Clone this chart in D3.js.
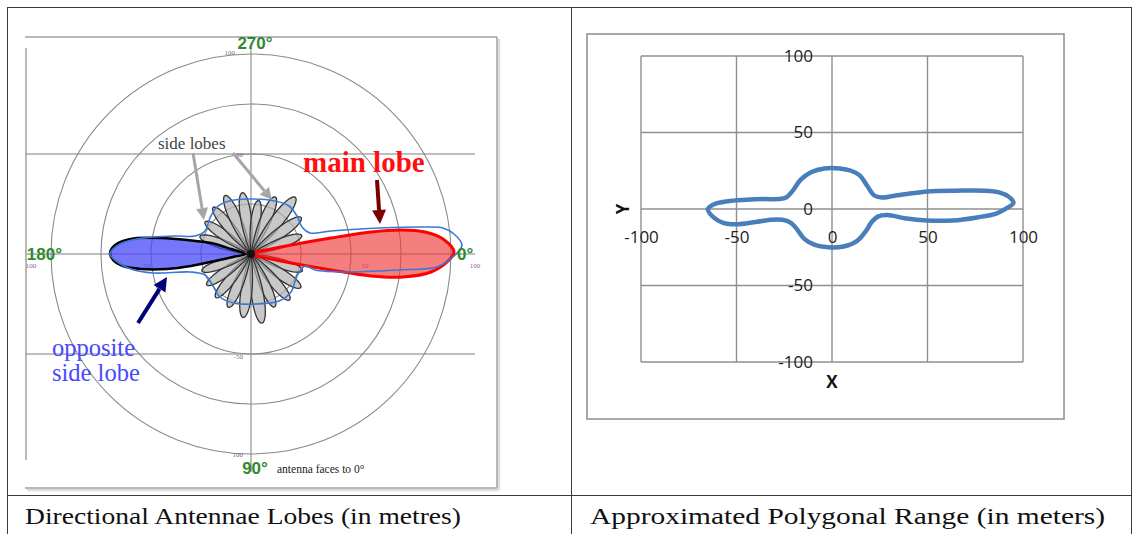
<!DOCTYPE html>
<html>
<head>
<meta charset="utf-8">
<script src="https://cdn.jsdelivr.net/npm/d3@7"></script>
<style>
  html, body { margin: 0; padding: 0; background: #fff; }
  svg { display: block; }
</style>
</head>
<body>
<svg id="fig" width="1132" height="534"></svg>
<script>
// ---------------- data ----------------
// Polar pattern (metres). Rings and compass directions.
const ringValues = [25, 50, 75, 100];
const gridValues = [-50, 0, 50];
const compassAngles = [0, 90, 180, 270];
const compassLabels = ["0°", "90°", "180°", "270°"];

// Main lobe outline, [x, y] in metres (y up), antenna facing 0°
const mainLobe = [
  [0, 0], [10, 2.5], [20, 4.5], [40, 8], [60, 11], [75, 12], [87, 11], [96, 7.5],
  [101.5, 1], [98, -4], [90, -9], [76, -11.5], [60, -11], [40, -8], [20, -4.5], [10, -2.5]
];

// Opposite (back) lobe outline, [x, y] in metres
const oppositeLobe = [
  [-3, 0], [-10, 2.5], [-20, 5.5], [-32, 7], [-45, 8], [-57, 8], [-64, 6.5], [-68.5, 4],
  [-70.5, 0.5], [-69, -3], [-64, -6], [-55, -7.5], [-42, -7.5], [-30, -6], [-18, -3.5], [-9, -1.5]
];

// Side lobes: direction (degrees, clockwise from 0°) and length (metres)
const sideLobeAngles  = [18, 34, 50, 66, 81, 97, 113, 129, 145, 161,
                         199, 215, 231, 246, 262, 278, 293, 308, 324, 340];
const sideLobeLengths = [27, 30, 30, 29, 35, 32, 29, 28, 27, 26,
                         27, 28, 30, 32, 31, 27, 31, 36, 31, 27];

// Coverage envelope drawn around all lobes, [x, y] in metres (y up)
const coverageEnvelope = [
  [-70.5, 0], [-65.5, 5], [-57, 7.5], [-49, 8.5], [-38, 9], [-28, 9], [-23, 11.5],
  [-20.5, 18], [-17, 23.5], [-11, 26.5], [0, 27.5], [12, 26.5], [19, 24], [23, 19],
  [25.5, 13.5], [29.5, 10.5], [40, 11.5], [64.5, 13], [88, 13.5], [96, 13], [101.5, 10],
  [105.5, 4.5], [103, 0.5], [99, -3], [93, -6.5], [73, -8], [48, -9], [32, -8],
  [27, -6], [23, -11], [20, -19], [14, -23.5], [3, -25], [-9, -24.5], [-16, -21],
  [-19.5, -15], [-23, -10.5], [-30.5, -9], [-49, -9.5], [-60, -7.5], [-66, -4.5]
];

// Approximated polygonal range (metres)
const rangeX = [-65, -62, -55, -45, -35, -28, -24, -20.5, -16.5, -11, -4, 4, 10, 14.5, 18.5,
                22, 26, 32, 40, 50, 65, 80, 87, 92, 95, 91.5, 86, 76, 63, 50, 38, 29,
                24, 20.5, 18, 13, 6, -2, -9, -14.5, -18.5, -21.5, -26, -32, -40, -50, -57, -62];
const rangeY = [0, 3, 5, 6, 6.5, 6.5, 7.5, 12, 19, 24, 26.5, 26.5, 25, 22, 15,
                9, 7.5, 8.5, 10, 11.5, 12, 12, 11, 8.5, 4, 0.5, -3, -5.5, -7.5, -7.5, -6, -4,
                -5, -9, -14, -21, -24.5, -25, -23.5, -19.5, -13, -9, -7, -7, -8.5, -10, -9, -5.5];
const rangeTicks = [-100, -50, 0, 50, 100];

const captions = ["Directional Antennae Lobes (in metres)", "Approximated Polygonal Range (in meters)"];

// ---------------- drawing ----------------
const svg = d3.select("#fig");
const deg = Math.PI / 180;

// table rules
const rules = svg.append("g").attr("stroke", "#3a3a3a").attr("stroke-width", 1);
rules.append("line").attr("x1", 7).attr("x2", 1132).attr("y1", 7.5).attr("y2", 7.5);
rules.append("line").attr("x1", 7.5).attr("x2", 7.5).attr("y1", 7).attr("y2", 534);
rules.append("line").attr("x1", 571.5).attr("x2", 571.5).attr("y1", 7).attr("y2", 534);
rules.append("line").attr("x1", 1131.5).attr("x2", 1131.5).attr("y1", 7).attr("y2", 534);
rules.append("line").attr("x1", 7).attr("x2", 1132).attr("y1", 495.5).attr("y2", 495.5);

// captions
svg.selectAll("text.caption").data(captions).join("text")
  .attr("class", "caption")
  .attr("x", (d, i) => i === 0 ? 25 : 590)
  .attr("y", 524)
  .attr("font-family", "Liberation Serif, serif")
  .attr("font-size", 24)
  .attr("textLength", (d, i) => i === 0 ? 436 : 515)
  .attr("lengthAdjust", "spacingAndGlyphs")
  .attr("fill", "#111")
  .text(d => d);

// ================= left panel: polar lobe pattern =================
const cx = 251, cy = 254;
const xL = d3.scaleLinear().domain([-100, 100]).range([cx - 200, cx + 200]);
const yL = d3.scaleLinear().domain([-100, 100]).range([cy + 200, cy - 200]);
const rL = d3.scaleLinear().domain([0, 100]).range([0, 200]);

const left = svg.append("g");

// picture frame
const frame = left.append("g").attr("stroke-width", 1.5).attr("fill", "none");
frame.append("line").attr("x1", 499).attr("x2", 499).attr("y1", 39).attr("y2", 490).attr("stroke", "#dcdcdc").attr("stroke-width", 2.5);
frame.append("line").attr("x1", 27).attr("x2", 499).attr("y1", 490).attr("y2", 490).attr("stroke", "#dcdcdc").attr("stroke-width", 2.5);
frame.append("line").attr("x1", 25).attr("x2", 497).attr("y1", 37).attr("y2", 37).attr("stroke", "#a0a0a0");
frame.append("line").attr("x1", 497).attr("x2", 497).attr("y1", 37).attr("y2", 488).attr("stroke", "#a0a0a0");
frame.append("line").attr("x1", 25).attr("x2", 497).attr("y1", 488).attr("y2", 488).attr("stroke", "#a0a0a0");
frame.append("line").attr("x1", 26).attr("x2", 26).attr("y1", 48).attr("y2", 460).attr("stroke", "#a0a0a0");

// grid lines
left.selectAll("line.hgrid").data(gridValues).join("line")
  .attr("class", "hgrid")
  .attr("x1", 25).attr("x2", xL(112))
  .attr("y1", d => yL(d)).attr("y2", d => yL(d))
  .attr("stroke", "#a8a8a8").attr("stroke-width", 1.5);
left.append("line")
  .attr("x1", xL(0)).attr("x2", xL(0))
  .attr("y1", yL(103)).attr("y2", yL(-109))
  .attr("stroke", "#a8a8a8").attr("stroke-width", 1.5);

// range rings
left.selectAll("circle.ring").data(ringValues).join("circle")
  .attr("class", "ring")
  .attr("cx", cx).attr("cy", cy)
  .attr("r", d => rL(d))
  .attr("fill", "none")
  .attr("stroke", "#8a8a8a")
  .attr("stroke-width", 1.1);

// tiny ring value labels along the axes
const tinyLabels = [
  { t: "100", a: 270, v: 101, dx: -16 }, { t: "50", a: 270, v: 50, dx: -8 },
  { t: "100", a: 180, v: 110, dx: 0 },   { t: "50", a: 180, v: 52, dx: 0 },
  { t: "50", a: 0, v: 57, dx: 0 },       { t: "100", a: 0, v: 112, dx: 0 },
  { t: "-50", a: 90, v: 51, dx: -8 },    { t: "100", a: 90, v: 100, dx: -8 }
];
left.selectAll("text.tiny").data(tinyLabels).join("text")
  .attr("class", "tiny")
  .attr("x", d => cx + rL(d.v) * Math.cos(d.a * deg) + d.dx)
  .attr("y", d => cy + rL(d.v) * Math.sin(d.a * deg) + (d.a === 0 || d.a === 180 ? 14 : 3))
  .attr("text-anchor", d => d.a === 0 || d.a === 180 ? "middle" : "end")
  .attr("font-family", "Liberation Serif, serif")
  .attr("font-size", 7)
  .attr("fill", "#8a5c9c")
  .text(d => d.t);

// side lobes (petals)
const petalHalfWidth = 14;
const petalSteps = d3.range(-petalHalfWidth, petalHalfWidth + 0.01, 1);
const petal = d3.lineRadial()
  .angle(d => d[0])
  .radius(d => d[1])
  .curve(d3.curveLinearClosed);
const petals = sideLobeAngles.map((a, i) =>
  petalSteps.map(p => [
    (a + p + 90) * deg,
    rL(sideLobeLengths[i] * Math.cos((p / petalHalfWidth) * Math.PI / 2))
  ])
);
left.append("g").attr("transform", `translate(${cx},${cy})`)
  .selectAll("path").data(petals).join("path")
  .attr("d", petal)
  .attr("fill", "#b0b0b0")
  .attr("fill-opacity", 0.7)
  .attr("stroke", "#333")
  .attr("stroke-width", 1.3);

// main and opposite lobes
const lobeLine = d3.line()
  .x(d => xL(d[0]))
  .y(d => yL(d[1]))
  .curve(d3.curveCatmullRomClosed.alpha(0.5));

left.append("path")
  .attr("d", lobeLine(oppositeLobe))
  .attr("fill", "#4848f8")
  .attr("fill-opacity", 0.75)
  .attr("stroke", "#000")
  .attr("stroke-width", 2.5);

left.append("path")
  .attr("d", lobeLine(mainLobe))
  .attr("fill", "#f03a3a")
  .attr("fill-opacity", 0.65)
  .attr("stroke", "#ff0000")
  .attr("stroke-width", 3);

// coverage envelope
left.append("path")
  .attr("d", lobeLine(coverageEnvelope))
  .attr("fill", "none")
  .attr("stroke", "#3a78d8")
  .attr("stroke-width", 1.6);

// antenna position
left.append("circle").attr("cx", cx).attr("cy", cy).attr("r", 4).attr("fill", "#111");

// compass labels
left.selectAll("text.compass").data(compassAngles).join("text")
  .attr("class", "compass")
  .attr("x", d => d === 0 ? xL(103) : d === 180 ? xL(-94.5) : xL(2))
  .attr("y", d => d === 270 ? yL(105.5) : d === 90 ? yL(-107) : yL(0))
  .attr("dy", "0.36em")
  .attr("text-anchor", d => d === 0 ? "start" : d === 180 ? "end" : "middle")
  .attr("font-family", "Liberation Sans, Arial, sans-serif")
  .attr("font-weight", "bold")
  .attr("font-size", 17)
  .attr("fill", "#2f8a2f")
  .text((d, i) => compassLabels[i]);

left.append("text")
  .attr("x", 277).attr("y", 473)
  .attr("font-family", "Liberation Serif, serif")
  .attr("font-size", 11.5)
  .attr("fill", "#222")
  .text("antenna faces to 0°");

// annotations
function arrow(g, from, to, color, width, head) {
  const x1 = xL(from[0]), y1 = yL(from[1]), x2 = xL(to[0]), y2 = yL(to[1]);
  const ang = Math.atan2(y2 - y1, x2 - x1);
  const bx = x2 - head * Math.cos(ang), by = y2 - head * Math.sin(ang);
  g.append("line").attr("x1", x1).attr("y1", y1).attr("x2", bx).attr("y2", by)
    .attr("stroke", color).attr("stroke-width", width);
  const w = head * 0.5;
  const pts = [
    [x2, y2],
    [bx + w * Math.sin(ang), by - w * Math.cos(ang)],
    [bx - w * Math.sin(ang), by + w * Math.cos(ang)]
  ];
  g.append("polygon").attr("points", pts.map(p => p.join(",")).join(" ")).attr("fill", color);
}

const notes = left.append("g");
notes.append("text")
  .attr("x", 158).attr("y", 149)
  .attr("font-family", "Liberation Serif, serif")
  .attr("font-size", 17)
  .attr("fill", "#444")
  .text("side lobes");
arrow(notes, [-29, 50.5], [-23.5, 17], "#a6a6a6", 3, 12);
arrow(notes, [-9, 50.5], [10.5, 27], "#a6a6a6", 3, 12);

notes.append("text")
  .attr("x", 303).attr("y", 172)
  .attr("font-family", "Liberation Serif, serif")
  .attr("font-weight", "bold")
  .attr("font-size", 29)
  .attr("fill", "#ff1010")
  .text("main lobe");
arrow(notes, [63, 37], [64.5, 15], "#7a0000", 4, 14);

notes.append("text")
  .attr("x", 52).attr("y", 356)
  .attr("font-family", "Liberation Serif, serif")
  .attr("font-size", 24.5)
  .attr("fill", "#4848ff")
  .text("opposite");
notes.append("text")
  .attr("x", 52).attr("y", 381)
  .attr("font-family", "Liberation Serif, serif")
  .attr("font-size", 24.5)
  .attr("fill", "#4848ff")
  .text("side lobe");
arrow(notes, [-56.5, -34.5], [-42, -11.5], "#00007a", 4, 14);

// ================= right panel: polygonal range =================
const xR = d3.scaleLinear().domain([-100, 100]).range([641, 1023]);
const yR = d3.scaleLinear().domain([-100, 100]).range([362, 56]);
const right = svg.append("g");

right.append("rect")
  .attr("x", 587).attr("y", 34).attr("width", 477).attr("height", 385)
  .attr("fill", "#fff").attr("stroke", "#8c8c8c").attr("stroke-width", 1.5);

right.selectAll("line.vgrid").data(rangeTicks).join("line")
  .attr("class", "vgrid")
  .attr("x1", d => xR(d)).attr("x2", d => xR(d))
  .attr("y1", yR(100)).attr("y2", yR(-100))
  .attr("stroke", "#8f8f8f").attr("stroke-width", 1.4);
right.selectAll("line.hgridR").data(rangeTicks).join("line")
  .attr("class", "hgridR")
  .attr("x1", xR(-100)).attr("x2", xR(100))
  .attr("y1", d => yR(d)).attr("y2", d => yR(d))
  .attr("stroke", "#8f8f8f").attr("stroke-width", 1.4);

const tickFont = "Open Sans, Liberation Sans, sans-serif";
const xAxis = right.append("g")
  .attr("transform", `translate(0,${yR(0)})`)
  .call(d3.axisBottom(xR).tickValues(rangeTicks).tickSize(0).tickPadding(22).tickFormat(d => String(d)));
const yAxis = right.append("g")
  .attr("transform", `translate(${xR(0)},0)`)
  .call(d3.axisLeft(yR).tickValues(rangeTicks).tickSize(0).tickPadding(19).tickFormat(d => String(d)));
[xAxis, yAxis].forEach(ax => {
  ax.select(".domain").remove();
  ax.selectAll("text").attr("font-family", tickFont).attr("font-size", 17).attr("fill", "#222");
});

right.append("text")
  .attr("x", xR(0)).attr("y", 388)
  .attr("text-anchor", "middle")
  .attr("font-family", tickFont).attr("font-weight", "bold").attr("font-size", 17)
  .attr("fill", "#111")
  .text("X");
right.append("text")
  .attr("transform", `translate(629,${yR(0)}) rotate(-90)`)
  .attr("text-anchor", "middle")
  .attr("font-family", tickFont).attr("font-weight", "bold").attr("font-size", 17)
  .attr("fill", "#111")
  .text("Y");

const rangeLine = d3.line()
  .x(i => xR(rangeX[i]))
  .y(i => yR(rangeY[i]))
  .curve(d3.curveCatmullRomClosed.alpha(0.5));
right.append("path")
  .attr("d", rangeLine(d3.range(rangeX.length)))
  .attr("fill", "none")
  .attr("stroke", "#4a7ebb")
  .attr("stroke-width", 4.5)
  .attr("stroke-linejoin", "round");
</script>
</body>
</html>
